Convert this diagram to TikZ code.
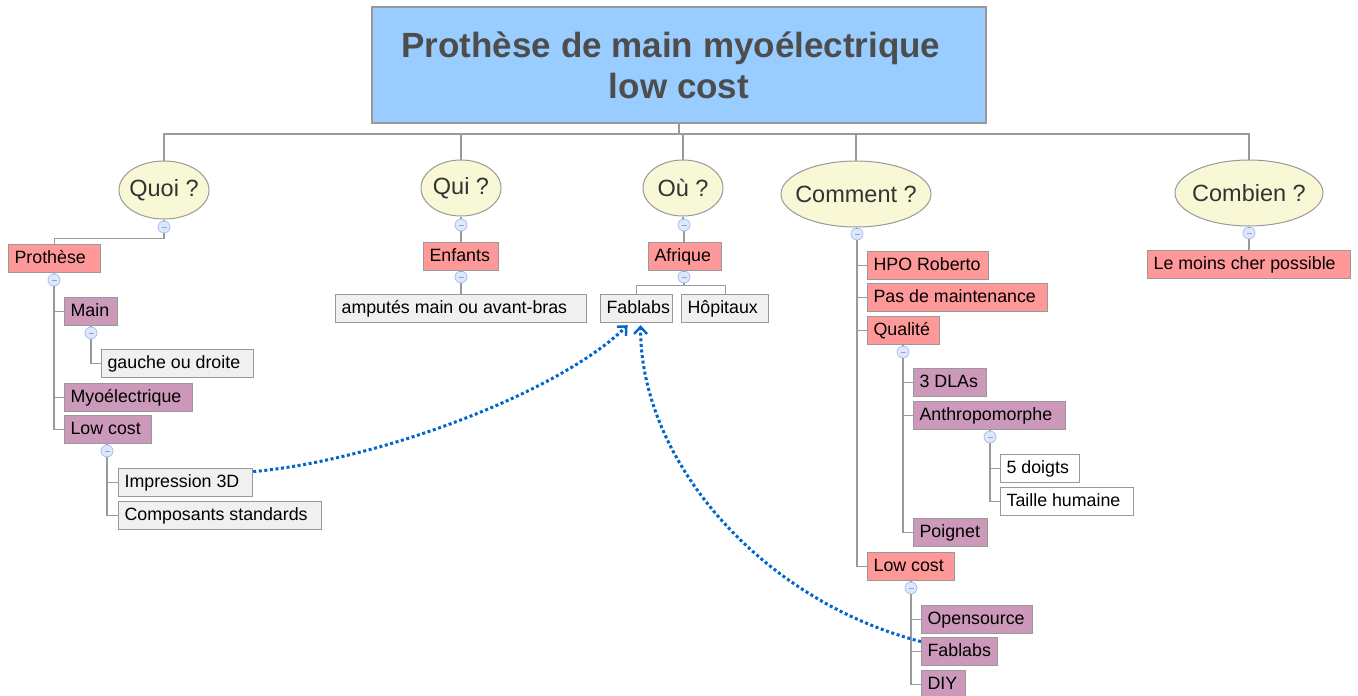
\documentclass[tikz,border=0pt]{standalone}
\usepackage{fontspec}
\setmainfont{Liberation Sans}
\usetikzlibrary{shapes.geometric,arrows.meta,calc}
\definecolor{salmon}{HTML}{FF9999}
\definecolor{mauve}{HTML}{CC99BB}
\definecolor{lgray}{HTML}{F0F0F0}
\definecolor{boxline}{HTML}{999999}
\definecolor{connline}{HTML}{9A9A9A}
\definecolor{cream}{HTML}{F8F8D6}
\definecolor{titlefill}{HTML}{99CCFF}
\definecolor{titletext}{HTML}{4D4D4D}
\definecolor{elltext}{HTML}{333333}
\definecolor{togfill}{HTML}{DDE8FB}
\definecolor{togline}{HTML}{A8C0EE}
\definecolor{togminus}{HTML}{8AA6DD}
\definecolor{linkblue}{HTML}{0066CC}
\newcommand\bx[6]{\node[bxs,#1] (#2) at (#3,#4) {\makebox[\dimexpr#5pt-12pt\relax][l]{#6}};}
\begin{document}
\begin{tikzpicture}[x=1pt,y=-1pt,
  bxs/.style={anchor=north west, minimum height=28pt, inner xsep=6pt, inner ysep=0pt,
    text height=13pt, text depth=4pt, draw=boxline, line width=1.2pt,
    font=\fontsize{17.8}{21}\selectfont},
  sal/.style={fill=salmon},
  mau/.style={fill=mauve},
  gry/.style={fill=lgray},
  wht/.style={fill=white},
  ell/.style={ellipse, draw=boxline, fill=cream, line width=1pt, inner sep=0pt},
  elltxt/.style={font=\fontsize{23.5}{27}\selectfont, text=elltext},
  tog/.style={circle, minimum size=12pt, inner sep=0pt, fill=togfill, draw=togline, line width=0.8pt,
    path picture={\draw[togminus,line width=1pt] ([xshift=-2.5pt]path picture bounding box.center) -- ([xshift=2.5pt]path picture bounding box.center);}},
  conn/.style={draw=connline, line width=1.1pt},
  link/.style={draw=linkblue, line width=3pt, dash pattern=on 3pt off 2.6pt,
    -{Straight Barb[length=7pt,width=13pt,line width=2.4pt]}},
  titlebox/.style={draw=boxline, fill=titlefill, line width=1.2pt, minimum width=614pt, minimum height=116pt,
    align=center, text=titletext, font=\fontsize{35}{41}\selectfont\bfseries}
]
\useasboundingbox (0,0) rectangle (1358,696);

% title
\node[titlebox] (title) at (679,65) {Prothèse de main myoélectrique\hspace*{16pt}\\low cost};
\coordinate (bus) at (679,134);

% ellipses
\node[ell, minimum width=90pt, minimum height=58pt, label={[elltxt]center:Quoi ?}] (quoi) at (164,190) {};
\node[ell, minimum width=80pt, minimum height=56pt, label={[elltxt]center:Qui ?}] (qui) at (461,188) {};
\node[ell, minimum width=80pt, minimum height=56pt, label={[elltxt]center:Où ?}] (ou) at (683,188) {};
\node[ell, minimum width=150pt, minimum height=66pt, label={[elltxt]center:Comment ?}] (comment) at (856,194) {};
\node[ell, minimum width=148pt, minimum height=66pt, label={[elltxt]center:Combien ?}] (combien) at (1249,193) {};

\draw[conn] (title.south) -- (bus);
\foreach \n in {quoi,qui,ou,comment,combien}{\draw[conn] (\n.north) |- (bus);}

% toggles under ellipses
\node[tog] (tq) at (164,227) {};
\node[tog] (tqi) at (461,225) {};
\node[tog] (tou) at (684,225) {};
\node[tog] (tc) at (857,234) {};
\node[tog] (tcb) at (1249,233) {};

% ---------- Quoi ----------
\bx{sal}{proth}{8}{244}{92}{Prothèse}
\bx{mau}{main}{64}{297}{53}{Main}
\bx{gry}{gauche}{101}{349}{152}{gauche ou droite}
\bx{mau}{myo}{64}{383}{128}{Myoélectrique}
\bx{mau}{lowa}{64}{415}{87}{Low cost}
\bx{gry}{imp}{118}{468}{134}{Impression 3D}
\bx{gry}{comp}{118}{501}{203}{Composants standards}
\node[tog] (tp) at (54,280) {};
\node[tog] (tm) at (91,333) {};
\node[tog] (tl) at (107,451) {};

\draw[conn] (quoi.south) -- (tq.north);
\draw[conn] (tq.south) -- ++(0,5) -| (proth.north);
\draw[conn] (proth.south) -- (tp.north);
\draw[conn] (tp.south) |- (main.west);
\draw[conn] (tp.south) |- (myo.west);
\draw[conn] (tp.south) |- (lowa.west);
\draw[conn] (tm.north) -- (tm.north |- main.south);
\draw[conn] (tm.south) |- (gauche.west);
\draw[conn] (tl.north) -- (tl.north |- lowa.south);
\draw[conn] (tl.south) |- (imp.west);
\draw[conn] (tl.south) |- (comp.west);

% ---------- Qui ----------
\bx{sal}{enf}{423}{242}{75}{Enfants}
\bx{gry}{amp}{335}{294}{251}{amputés main ou avant-bras}
\node[tog] (te) at (461,277) {};
\draw[conn] (qui.south) -- (tqi.north);
\draw[conn] (tqi.south) -- (tqi.south |- enf.north);
\draw[conn] (te.north) -- (te.north |- enf.south);
\draw[conn] (te.south) -- (te.south |- amp.north);

% ---------- Où ----------
\bx{sal}{afr}{648}{242}{73}{Afrique}
\bx{gry}{faba}{600}{294}{72}{Fablabs}
\bx{gry}{hop}{681}{294}{87}{Hôpitaux}
\node[tog] (ta) at (684,277) {};
\draw[conn] (ou.south) -- (ou.south |- tou.north);
\draw[conn] (tou.south) -- (tou.south |- afr.north);
\draw[conn] (ta.north) -- (ta.north |- afr.south);
\draw[conn] (ta.south) -- ++(0,2) -| (faba.north);
\draw[conn] (ta.south) -- ++(0,2) -| (hop.north);

% ---------- Comment ----------
\bx{sal}{hpo}{867}{251}{121}{HPO Roberto}
\bx{sal}{pas}{867}{283}{180}{Pas de maintenance}
\bx{sal}{qual}{867}{316}{72}{Qualité}
\bx{mau}{dla}{913}{368}{73}{3 DLAs}
\bx{mau}{anth}{913}{401}{152}{Anthropomorphe}
\bx{wht}{doigts}{1000}{454}{79}{5 doigts}
\bx{wht}{taille}{1000}{487}{133}{Taille humaine}
\bx{mau}{poig}{913}{518}{74}{Poignet}
\bx{sal}{lowb}{867}{552}{87}{Low cost}
\bx{mau}{open}{921}{605}{111}{Opensource}
\bx{mau}{fabb}{921}{637}{76}{Fablabs}
\bx{mau}{diy}{921}{670}{44}{DIY}
\node[tog] (tqu) at (903,352) {};
\node[tog] (tan) at (990,437) {};
\node[tog] (tlc) at (911,588) {};

\draw[conn] (comment.south -| tc.north) -- (tc.north);
\draw[conn] (tc.south) |- (hpo.west);
\draw[conn] (tc.south) |- (pas.west);
\draw[conn] (tc.south) |- (qual.west);
\draw[conn] (tc.south) |- (lowb.west);
\draw[conn] (tqu.north) -- (tqu.north |- qual.south);
\draw[conn] (tqu.south) |- (dla.west);
\draw[conn] (tqu.south) |- (anth.west);
\draw[conn] (tqu.south) |- (poig.west);
\draw[conn] (tan.north) -- (tan.north |- anth.south);
\draw[conn] (tan.south) |- (doigts.west);
\draw[conn] (tan.south) |- (taille.west);
\draw[conn] (tlc.north) -- (tlc.north |- lowb.south);
\draw[conn] (tlc.south) |- (open.west);
\draw[conn] (tlc.south) |- (fabb.west);
\draw[conn] (tlc.south) |- (diy.west);

% ---------- Combien ----------
\bx{sal}{moins}{1147}{250}{203}{Le moins cher possible}
\draw[conn] (combien.south) -- (tcb.north);
\draw[conn] (tcb.south) -- (tcb.south |- moins.north);

% ---------- links ----------
\draw[link] ([yshift=11pt]imp.east) .. controls (380,460) and (560,392) .. ([xshift=-9pt,yshift=-2pt]faba.south);
\draw[link] ([yshift=10pt]fabb.west) .. controls (760,600) and (640,460) .. ([xshift=4pt,yshift=-2pt]faba.south);
\end{tikzpicture}
\end{document}
